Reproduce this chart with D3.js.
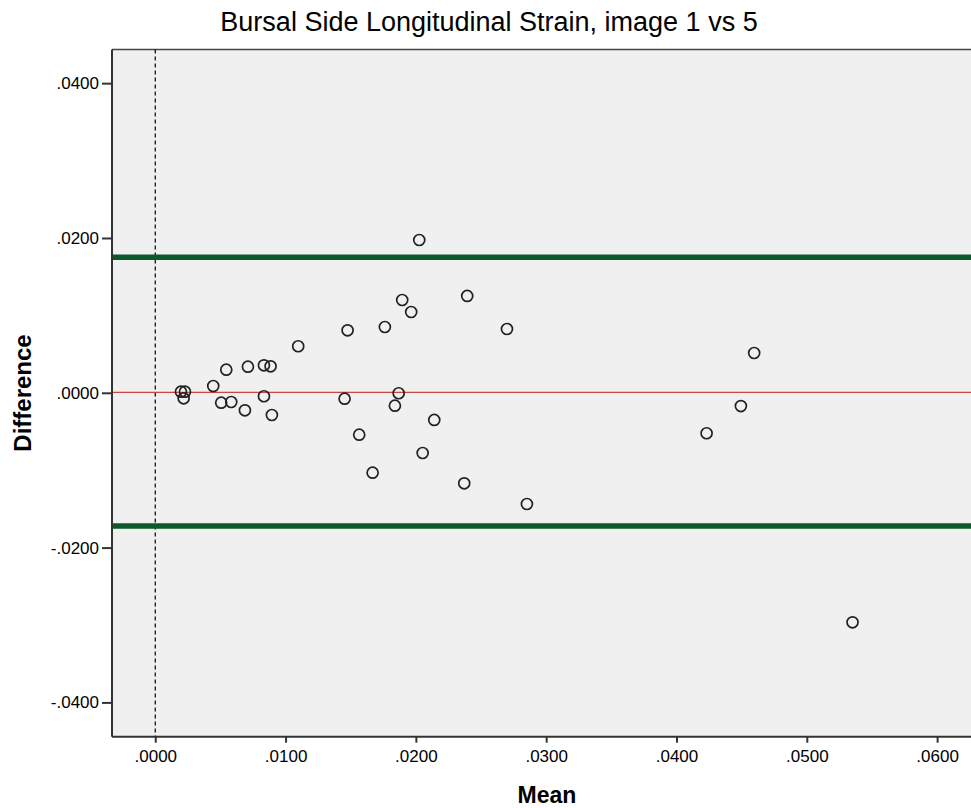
<!DOCTYPE html>
<html>
<head>
<meta charset="utf-8">
<title>Bursal Side Longitudinal Strain, image 1 vs 5</title>
<script src="https://cdnjs.cloudflare.com/ajax/libs/d3/7.8.5/d3.min.js"></script>
<style>
  body { margin: 0; background: #fff; }
  text { font-family: "Liberation Sans", Arial, sans-serif; fill: #000; }
</style>
</head>
<body>
<script>
// mean of the two images (x) and their difference (y)
var means = [0.02026, 0.02394, 0.01895, 0.01964, 0.01762, 0.01476, 0.01097, 0.00545,
             0.00711, 0.00834, 0.00885, 0.00445, 0.00197, 0.00228, 0.00218, 0.00506,
             0.00583, 0.00688, 0.00834, 0.00895, 0.01453, 0.01868, 0.01839, 0.02141,
             0.01565, 0.02052, 0.01668, 0.02371, 0.02852, 0.04596, 0.04494, 0.04231,
             0.02699, 0.05351];
var diffs = [0.01974, 0.01251, 0.01199, 0.01044, 0.00850, 0.00807, 0.00601, 0.00298,
             0.00337, 0.00355, 0.00342, 0.00088, 0.00014, 0.00014, -0.00071, -0.00128,
             -0.00119, -0.00226, -0.00045, -0.00287, -0.00076, -0.00006, -0.00167, -0.00351,
             -0.00541, -0.00778, -0.01032, -0.01169, -0.01437, 0.00514, -0.00171, -0.00523,
             0.00824, -0.02965];
var meanDiff = 0.00006;
var limits = [0.01751, -0.01721];
var xTicks = [0, 0.01, 0.02, 0.03, 0.04, 0.05, 0.06];
var yTicks = [-0.04, -0.02, 0, 0.02, 0.04];

var width = 971, height = 808;
// "top" is taken by window.top, so plot edges get their own names
var pLeft = 112, pRight = 971, pTop = 49.5, pBottom = 736.7;

var fmt = function(v) {
  var s = Math.abs(v).toFixed(4).replace(/^0/, "");
  return (v < 0 ? "-" : "") + s;
};

var x = d3.scaleLinear().domain([-0.00332, 0.0626]).range([pLeft, pRight]);
var y = d3.scaleLinear().domain([-0.04443, 0.04435]).range([pBottom, pTop]);

var svg = d3.select("body").append("svg")
  .attr("width", width)
  .attr("height", height);

// plot background
svg.append("rect")
  .attr("x", pLeft).attr("y", pTop)
  .attr("width", pRight - pLeft).attr("height", pBottom - pTop)
  .attr("fill", "#f0f0f0");

// frame top
svg.append("line")
  .attr("x1", pLeft).attr("x2", pRight)
  .attr("y1", pTop).attr("y2", pTop)
  .attr("stroke", "#444").attr("stroke-width", 1.5);

// dashed reference line at 0
svg.append("line")
  .attr("x1", x(0)).attr("x2", x(0))
  .attr("y1", pTop).attr("y2", pBottom)
  .attr("stroke", "#000").attr("stroke-width", 1.2)
  .attr("stroke-dasharray", "4,3");

// limits of agreement
svg.selectAll("line.limit")
  .data(limits)
  .enter().append("line")
  .attr("class", "limit")
  .attr("x1", pLeft).attr("x2", pRight)
  .attr("y1", function(d) { return y(d); })
  .attr("y2", function(d) { return y(d); })
  .attr("stroke", "#0b5a2c").attr("stroke-width", 5.5);

// mean difference
svg.append("line")
  .attr("x1", pLeft).attr("x2", pRight)
  .attr("y1", y(meanDiff)).attr("y2", y(meanDiff))
  .attr("stroke", "#cf4444").attr("stroke-width", 1.4);

// points
svg.selectAll("circle.pt")
  .data(means)
  .enter().append("circle")
  .attr("class", "pt")
  .attr("cx", function(d) { return x(d); })
  .attr("cy", function(d, i) { return y(diffs[i]); })
  .attr("r", 5.5)
  .attr("fill", "none")
  .attr("stroke", "#222")
  .attr("stroke-width", 1.7);

// axes
var xAxis = svg.append("g")
  .attr("transform", "translate(0," + pBottom + ")")
  .call(d3.axisBottom(x).tickValues(xTicks).tickFormat(fmt).tickSize(6).tickPadding(7));
var yAxis = svg.append("g")
  .attr("transform", "translate(" + pLeft + ",0)")
  .call(d3.axisLeft(y).tickValues(yTicks).tickFormat(fmt).tickSize(10).tickPadding(3));

[xAxis, yAxis].forEach(function(g) {
  g.select(".domain").attr("stroke", "#333").attr("stroke-width", 2);
  g.selectAll(".tick line").attr("stroke", "#333").attr("stroke-width", 2);
  g.selectAll(".tick text").attr("font-size", 17).attr("font-family", "Liberation Sans, Arial, sans-serif");
});
yAxis.select(".domain").attr("d", "M0," + pTop + "V" + pBottom);
xAxis.select(".domain").attr("d", "M" + pLeft + ",0H" + pRight);

// titles
svg.append("text")
  .attr("x", 489).attr("y", 31)
  .attr("text-anchor", "middle")
  .attr("font-size", 27)
  .text("Bursal Side Longitudinal Strain, image 1 vs 5");

svg.append("text")
  .attr("x", 547).attr("y", 803)
  .attr("text-anchor", "middle")
  .attr("font-size", 23)
  .attr("font-weight", "bold")
  .text("Mean");

svg.append("text")
  .attr("transform", "translate(31,393) rotate(-90)")
  .attr("text-anchor", "middle")
  .attr("font-size", 24)
  .attr("font-weight", "bold")
  .text("Difference");
</script>
</body>
</html>
